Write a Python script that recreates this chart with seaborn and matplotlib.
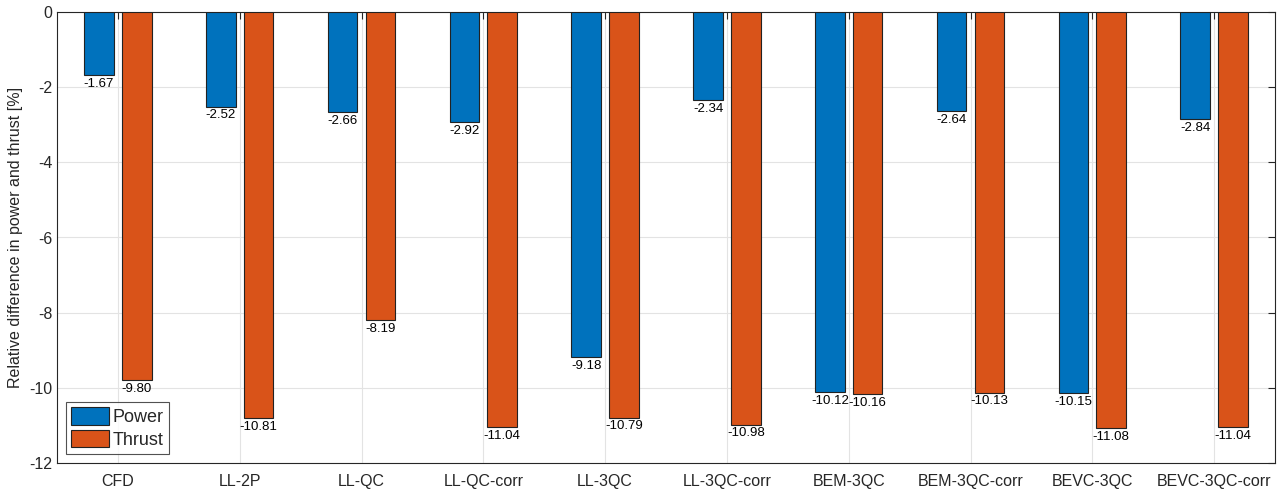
import matplotlib
matplotlib.use("Agg")
import matplotlib.pyplot as plt
import seaborn as sns
import pandas as pd

categories = ["CFD", "LL-2P", "LL-QC", "LL-QC-corr", "LL-3QC", "LL-3QC-corr",
              "BEM-3QC", "BEM-3QC-corr", "BEVC-3QC", "BEVC-3QC-corr"]
power = [-1.67, -2.52, -2.66, -2.92, -9.18, -2.34, -10.12, -2.64, -10.15, -2.84]
thrust = [-9.80, -10.81, -8.19, -11.04, -10.79, -10.98, -10.16, -10.13, -11.08, -11.04]
series = ["Power", "Thrust"]
colors = ["#0072BD", "#D95319"]

df = pd.DataFrame({
    "Method": categories * 2,
    "Value": power + thrust,
    "Series": [series[0]] * len(categories) + [series[1]] * len(categories),
})

sns.set_style("white")
plt.rcParams['font.family'] = ['Liberation Sans', 'DejaVu Sans']

fig = plt.figure(figsize=(12.85, 4.97), dpi=100)
ax = fig.add_axes([57/1285, 34/497, 1218/1285, 451/497])

sns.barplot(data=df, x="Method", y="Value", hue="Series", palette=colors,
            width=0.62, gap=0.22, edgecolor="#222222", linewidth=0.8,
            saturation=1, ax=ax, zorder=3, legend=True)

for cont in ax.containers:
    labels = [f"{b.get_height():.2f}" for b in cont]
    ax.bar_label(cont, labels=labels, padding=2, fontsize=9.5, color="black")

ax.set_ylim(-12, 0)
ax.set_xlim(-0.5, len(categories) - 0.5)
ax.set_yticks(range(-12, 1, 2))
ax.set_yticklabels([str(v) for v in range(-12, 1, 2)])
ax.set_xlabel("")
ax.set_ylabel("Relative difference in power and thrust [%]", fontsize=11.5, color="#262626")
ax.grid(True, color="#e3e3e3", linewidth=0.8, zorder=0)
ax.set_axisbelow(True)
ax.tick_params(axis="both", direction="in", length=5, width=0.8, color="#262626",
               labelsize=11.5, labelcolor="#262626", top=True, right=True)
for s in ax.spines.values():
    s.set_color("#262626")
    s.set_linewidth(0.8)
ax.tick_params(axis="x", pad=8)

leg = ax.legend(loc="lower left", fontsize=13, frameon=True, fancybox=False,
                edgecolor="#262626", borderaxespad=0.5, handlelength=2.1,
                handleheight=1.1, borderpad=0.3, labelspacing=0.2, handletextpad=0.2)
leg.get_frame().set_linewidth(0.8)

fig.savefig("out.png", dpi=100)
